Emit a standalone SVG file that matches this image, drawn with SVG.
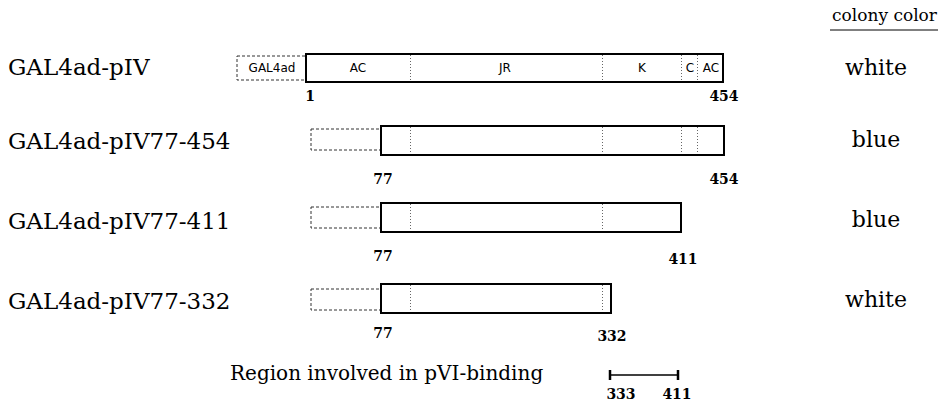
<svg xmlns="http://www.w3.org/2000/svg" width="941" height="405" viewBox="0 0 941 405">
<style>
.lbl{font-family:"DejaVu Serif","Liberation Serif",serif;font-size:23px;fill:#000}
.col{font-family:"DejaVu Serif","Liberation Serif",serif;font-size:22px;fill:#000;text-anchor:middle}
.hdr{font-family:"DejaVu Serif","Liberation Serif",serif;font-size:17px;fill:#000}
.num{font-family:"DejaVu Serif","Liberation Serif",serif;font-size:14px;font-weight:bold;fill:#000;text-anchor:middle}
.dom{font-family:"DejaVu Sans","Liberation Sans",sans-serif;font-size:12px;fill:#000;text-anchor:middle}
.gal{fill:#fff;stroke:#333;stroke-width:1;stroke-dasharray:3,2}
.box{fill:#fff;stroke:#000;stroke-width:2}
.div{stroke:#666;stroke-width:1;stroke-dasharray:1,2}
.bar{stroke:#000;stroke-width:1.5}
.tick{stroke:#000;stroke-width:2.5}
</style>
<rect width="941" height="405" fill="#fff"/>
<g id="header">
<text class="hdr" x="832" y="21">colony color</text>
<line x1="830" y1="30" x2="938" y2="30" stroke="#000" stroke-width="1"/>
</g>
<g id="construct-pIV">
<text class="lbl" x="8" y="75">GAL4ad-pIV</text>
<rect class="gal" x="237" y="56" width="69" height="24"/>
<rect class="box" x="306" y="54" width="417" height="28"/>
<line class="div" x1="410.5" y1="55" x2="410.5" y2="81"/>
<line class="div" x1="602.5" y1="55" x2="602.5" y2="81"/>
<line class="div" x1="681.5" y1="55" x2="681.5" y2="81"/>
<line class="div" x1="697.5" y1="55" x2="697.5" y2="81"/>
<text class="dom" x="272" y="72">GAL4ad</text>
<text class="dom" x="358" y="72">AC</text>
<text class="dom" x="505" y="72">JR</text>
<text class="dom" x="642" y="72">K</text>
<text class="dom" x="690" y="72">C</text>
<text class="dom" x="711" y="72">AC</text>
<text class="num" x="310" y="101">1</text>
<text class="num" x="724" y="101">454</text>
<text class="col" x="876" y="75">white</text>
</g>
<g id="construct-77-454">
<text class="lbl" x="8" y="149">GAL4ad-pIV77-454</text>
<rect class="gal" x="311" y="129" width="70" height="21"/>
<rect class="box" x="381" y="126" width="343" height="29"/>
<line class="div" x1="410.5" y1="127" x2="410.5" y2="154"/>
<line class="div" x1="602.5" y1="127" x2="602.5" y2="154"/>
<line class="div" x1="681.5" y1="127" x2="681.5" y2="154"/>
<line class="div" x1="697.5" y1="127" x2="697.5" y2="154"/>
<text class="num" x="383" y="184">77</text>
<text class="num" x="724" y="184">454</text>
<text class="col" x="876" y="147">blue</text>
</g>
<g id="construct-77-411">
<text class="lbl" x="8" y="229">GAL4ad-pIV77-411</text>
<rect class="gal" x="311" y="207" width="70" height="21"/>
<rect class="box" x="381" y="203" width="300" height="29"/>
<line class="div" x1="410.5" y1="204" x2="410.5" y2="231"/>
<line class="div" x1="602.5" y1="204" x2="602.5" y2="231"/>
<text class="num" x="383" y="261">77</text>
<text class="num" x="683" y="264">411</text>
<text class="col" x="876" y="227">blue</text>
</g>
<g id="construct-77-332">
<text class="lbl" x="8" y="309">GAL4ad-pIV77-332</text>
<rect class="gal" x="311" y="289" width="70" height="21"/>
<rect class="box" x="381" y="284" width="230" height="29"/>
<line class="div" x1="410.5" y1="285" x2="410.5" y2="312"/>
<line class="div" x1="602.5" y1="285" x2="602.5" y2="312"/>
<text class="num" x="383" y="338">77</text>
<text class="num" x="612" y="341">332</text>
<text class="col" x="876" y="307">white</text>
</g>
<g id="binding-region">
<text class="lbl" x="230" y="380" style="font-size:20px">Region involved in pVI-binding</text>
<g id="connectors">
<line class="bar" x1="610" y1="375" x2="678" y2="375"/>
<line class="tick" x1="610" y1="370" x2="610" y2="380"/>
<line class="tick" x1="678" y1="370" x2="678" y2="380"/>
</g>
<text class="num" x="621" y="399">333</text>
<text class="num" x="677" y="399">411</text>
</g>
</svg>
